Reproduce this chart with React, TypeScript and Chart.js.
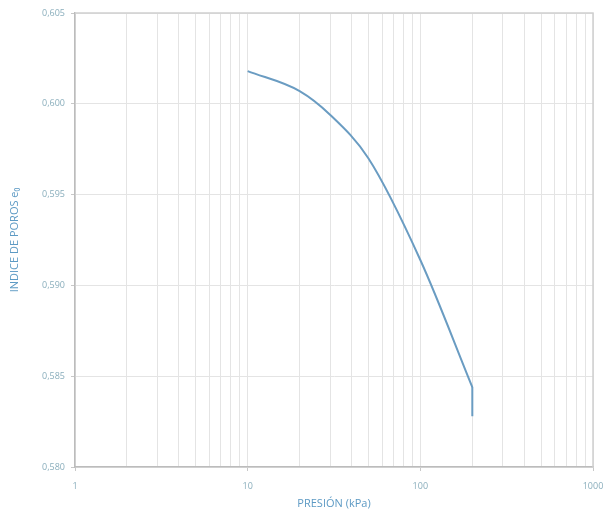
import React, { useEffect, useRef } from "react";
import { Chart, registerables } from "chart.js";

Chart.register(...registerables);

const pressures = [10, 20, 30, 50, 100, 200];
const voidRatios = [0.6018, 0.6007, 0.5994, 0.597, 0.5914, 0.5844];
const unloadPressures = [200, 200];
const unloadVoidRatios = [0.5844, 0.5828];
const xTickValues = [1, 2, 3, 4, 5, 6, 7, 8, 9, 10, 20, 30, 40, 50, 60, 70, 80, 90, 100, 200, 300, 400, 500, 600, 700, 800, 900, 1000];
const xLabelValues = [1, 10, 100, 1000];
const yMin = 0.58;
const yMax = 0.605;
const yStep = 0.005;

export default function App() {
  const ref = useRef<HTMLCanvasElement>(null);
  useEffect(() => {
    const ctx = ref.current!;
    const chart = new Chart(ctx, {
      type: "line",
      data: {
        datasets: [
          {
            data: pressures.map((p, i) => ({ x: p, y: voidRatios[i] })),
            borderColor: "#6a9cc2",
            borderWidth: 2,
            pointRadius: 0,
            cubicInterpolationMode: "monotone",
            fill: false,
          },
          {
            data: unloadPressures.map((p, i) => ({ x: p, y: unloadVoidRatios[i] })),
            borderColor: "#6a9cc2",
            borderWidth: 2,
            pointRadius: 0,
            tension: 0,
            fill: false,
          },
        ],
      },
      options: {
        animation: false,
        responsive: false,
        maintainAspectRatio: false,
        layout: { padding: { top: 13, right: 15, left: 8, bottom: 5 } },
        plugins: { legend: { display: false }, tooltip: { enabled: false } },
        scales: {
          x: {
            type: "logarithmic",
            min: 1,
            max: 1000,
            afterBuildTicks: (scale: any) => {
              scale.ticks = xTickValues.map((v) => ({ value: v }));
            },
            afterFit: (scale: any) => {
              scale.height = 43;
              scale.paddingLeft = 0;
              scale.paddingRight = 0;
            },
            ticks: {
              autoSkip: false,
              maxRotation: 0,
              color: "#8aaebc",
              font: { family: "Open Sans", size: 9 },
              padding: 10,
              callback: (v: any) => (xLabelValues.includes(Number(v)) ? String(v) : ""),
            },
            grid: {
              color: "#e4e4e4",
              lineWidth: 1,
              tickLength: 4,
              tickColor: (c: any) => (xLabelValues.includes(Number(c.tick?.value)) ? "#c8c8c8" : "rgba(0,0,0,0)"),
            },
            border: { color: "#bcbcbc", width: 1.5 },
            title: {
              display: true,
              text: "PRESIÓN (kPa)",
              color: "#5d9ac4",
              font: { family: "Open Sans", size: 11 },
              padding: { top: 2, bottom: 0 },
            },
          },
          y: {
            min: yMin,
            max: yMax,
            afterFit: (scale: any) => {
              scale.width = 67;
              scale.paddingTop = 0;
              scale.paddingBottom = 0;
            },
            ticks: {
              stepSize: yStep,
              color: "#8aaebc",
              font: { family: "Open Sans", size: 9 },
              padding: 6,
              callback: (v: any) => Number(v).toFixed(3).replace(".", ","),
            },
            grid: {
              color: "#e4e4e4",
              lineWidth: 1,
              tickLength: 4,
              tickColor: "#c8c8c8",
            },
            border: { color: "#bcbcbc", width: 1.5 },
            title: {
              display: true,
              text: "INDICE DE POROS e₀",
              color: "#5d9ac4",
              font: { family: "Open Sans", size: 11 },
              padding: { top: 0, bottom: 2 },
            },
          },
        },
      },
      plugins: [
        {
          id: "frame",
          afterDraw: (c: any) => {
            const { ctx: g, chartArea: a } = c;
            g.save();
            g.strokeStyle = "#cfcfcf";
            g.lineWidth = 1.5;
            g.beginPath();
            g.moveTo(a.left, a.top);
            g.lineTo(a.right, a.top);
            g.lineTo(a.right, a.bottom);
            g.stroke();
            g.restore();
          },
        },
      ],
    } as any);
    return () => chart.destroy();
  }, []);
  return (
    <div style={{ position: "fixed", left: 0, top: 0, width: 608, height: 515, background: "#fff" }}>
      <canvas ref={ref} width={608} height={515} style={{ width: 608, height: 515, display: "block" }} />
    </div>
  );
}
